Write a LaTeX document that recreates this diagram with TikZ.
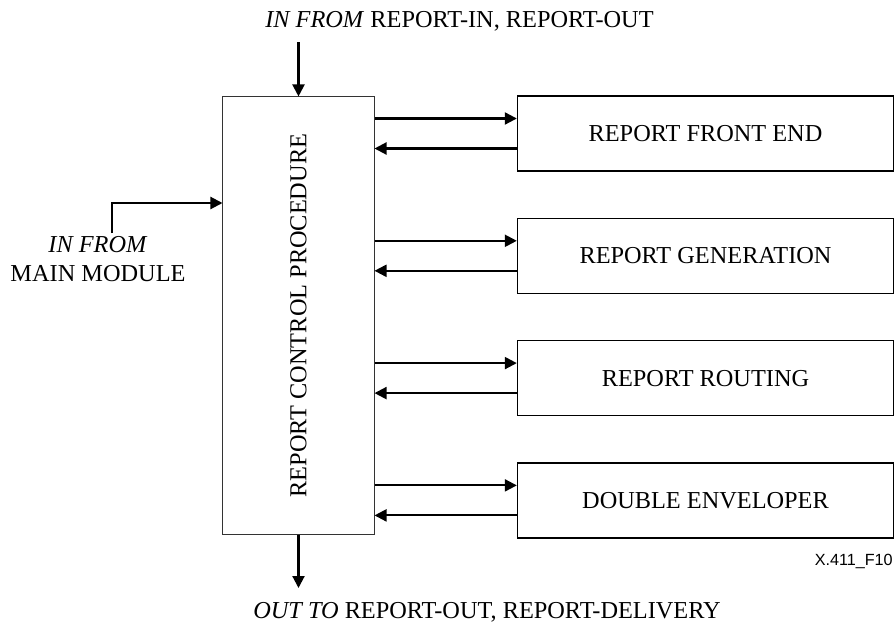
\documentclass[tikz,border=0pt]{standalone}
\usepackage{fontspec}
\setmainfont{Liberation Serif}
\setsansfont{Liberation Sans}
\usetikzlibrary{positioning, arrows.meta}

\begin{document}
\begin{tikzpicture}[
    x=0.025cm, y=-0.025cm,
    font=\fontsize{17.3}{20}\selectfont,
    node distance=1.15cm,
    ctrl/.style={rectangle, draw=black!80, line width=0.7pt,
        minimum width=3.775cm, minimum height=10.925cm, inner sep=0pt},
    unit/.style={rectangle, draw=black, line width=0.9pt,
        minimum width=9.4cm, minimum height=1.875cm, inner sep=0pt},
    flow/.style={line width=1.5pt, -{Triangle[length=0.3cm, width=0.3cm]}},
]
\useasboundingbox (0,0) rectangle (895,625);

\node[ctrl] (rcp) at (298.5,315.5) {};
\node[rotate=90] (rcptext) at (rcp.center) {REPORT CONTROL PROCEDURE};

\node[unit] (rfe) at (705.5,133.5) {REPORT FRONT END};
\node[unit, below=of rfe] (rgen) {REPORT GENERATION};
\node[unit, below=of rgen] (rrout) {REPORT ROUTING};
\node[unit, below=of rrout] (denv) {DOUBLE ENVELOPER};

% two-way links to the sub-modules
\foreach \u in {rfe, rgen, rrout, denv} {
    \draw[flow] ([yshift=0.375cm]\u.west -| rcp.east) -- ([yshift=0.375cm]\u.west);
    \draw[flow] ([yshift=-0.375cm]\u.west) -- ([yshift=-0.375cm]\u.west -| rcp.east);
}

% inputs and output
\node[anchor=base west, inner sep=0pt] (toplbl) at (265,27)
    {\textit{IN FROM} REPORT-IN, REPORT-OUT};
\coordinate (topin) at (298.5,42);
\draw[flow] (topin) -- (rcp.north);

\node[align=center, inner sep=0pt] (inlbl) at (98,259)
    {\textit{IN FROM}\\MAIN MODULE};
\coordinate (inL) at (112,233);
\coordinate (inbend) at (112,203);
\draw[flow] (inL) -- (inbend) -- (inbend -| rcp.west);

\coordinate (botout) at (298.5,588);
\draw[flow] (rcp.south) -- (botout);
\node[anchor=base west, inner sep=0pt] (botlbl) at (253,618)
    {\textit{OUT TO} REPORT-OUT, REPORT-DELIVERY};

\node[anchor=base east, inner sep=0pt, font=\sffamily\fontsize{11.5}{13}\selectfont] (figid)
    at (893,565) {X.411\_F10};

\end{tikzpicture}
\end{document}
